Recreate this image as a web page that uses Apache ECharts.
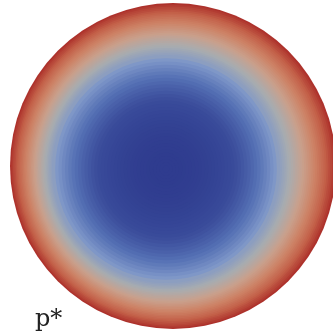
<!DOCTYPE html>
<html>
<head>
<meta charset="utf-8">
<script src="https://cdn.jsdelivr.net/npm/echarts@6/dist/echarts.min.js"></script>
<style>
  html, body { margin: 0; padding: 0; background: #fff; }
  #main { width: 333px; height: 335px; }
</style>
</head>
<body>
<div id="main"></div>
<script>
// 圆盘上 p* 的径向分布
// 每个环的外半径（归一化到圆盘半径）
let ringOuter = [1.00, 0.99, 0.98, 0.97, 0.96, 0.95, 0.94, 0.93, 0.92, 0.91,
                 0.90, 0.89, 0.88, 0.87, 0.86, 0.85, 0.84, 0.83, 0.82, 0.81,
                 0.80, 0.79, 0.78, 0.77, 0.76, 0.75, 0.74, 0.73, 0.72, 0.71,
                 0.70, 0.68, 0.66, 0.64, 0.62, 0.60, 0.58, 0.56, 0.54, 0.52,
                 0.50, 0.48, 0.46, 0.44, 0.42, 0.40, 0.38, 0.36, 0.34, 0.32,
                 0.30, 0.28, 0.26, 0.24, 0.22, 0.20, 0.18, 0.16, 0.14, 0.12,
                 0.10, 0.08, 0.06, 0.04, 0.02];
// 每个环的 p* 值
let pValues = [0.990, 0.965, 0.940, 0.920, 0.895, 0.873, 0.851, 0.830, 0.808, 0.787,
               0.766, 0.746, 0.726, 0.706, 0.687, 0.668, 0.649, 0.630, 0.612, 0.594,
               0.576, 0.559, 0.542, 0.525, 0.509, 0.493, 0.477, 0.462, 0.447, 0.432,
               0.418, 0.382, 0.356, 0.330, 0.306, 0.282, 0.260, 0.238, 0.218, 0.199,
               0.181, 0.163, 0.147, 0.132, 0.118, 0.104, 0.092, 0.080, 0.070, 0.060,
               0.051, 0.043, 0.036, 0.030, 0.024, 0.019, 0.014, 0.011, 0.008, 0.005,
               0.003, 0.002, 0.001, 0.000, 0.000];
// 色带
let colorStops = ['#2f3c8f', '#3a4c9b', '#5570b4', '#7d96c8', '#a8acb0',
                  '#c9a08c', '#cd8266', '#c35f48', '#ab2e2a'];
let pMin = 0;
let pMax = 1;

let chart = echarts.init(document.getElementById('main'));

// 圆盘外缘中心和内部色场中心略有偏移
let diskR = 163;
let outerC = [173, 166];
let innerC = [166, 169];

let polars = [];
let angleAxes = [];
let radiusAxes = [];
let series = [];
for (let i = 0; i < ringOuter.length; i++) {
    let w = Math.min(1, Math.max(0, (ringOuter[i] - 0.7) / 0.3));
    polars.push({
        center: [innerC[0] + (outerC[0] - innerC[0]) * w,
                 innerC[1] + (outerC[1] - innerC[1]) * w],
        radius: [0, diskR]
    });
    angleAxes.push({ polarIndex: i, type: 'category', data: ['disk'], show: false });
    radiusAxes.push({ polarIndex: i, type: 'value', min: 0, max: 1, show: false });
    // 每个环是从圆心出发的整圆，外层先画，内层覆盖
    series.push({
        type: 'bar',
        coordinateSystem: 'polar',
        polarIndex: i,
        barCategoryGap: '0%',
        silent: true,
        z: 2 + i,
        data: [[0, ringOuter[i], pValues[i]]],
        encode: { angle: 0, radius: 1 }
    });
}

let option = {
    animation: false,
    polar: polars,
    angleAxis: angleAxes,
    radiusAxis: radiusAxes,
    visualMap: {
        type: 'continuous',
        show: false,
        dimension: 2,
        min: pMin,
        max: pMax,
        inRange: { color: colorStops }
    },
    graphic: [{
        type: 'text',
        left: 35,
        top: 308,
        style: {
            text: 'p*',
            fontFamily: 'DejaVu Serif',
            fontSize: 24,
            fill: '#222'
        }
    }],
    series: series
};

chart.setOption(option);
</script>
</body>
</html>
